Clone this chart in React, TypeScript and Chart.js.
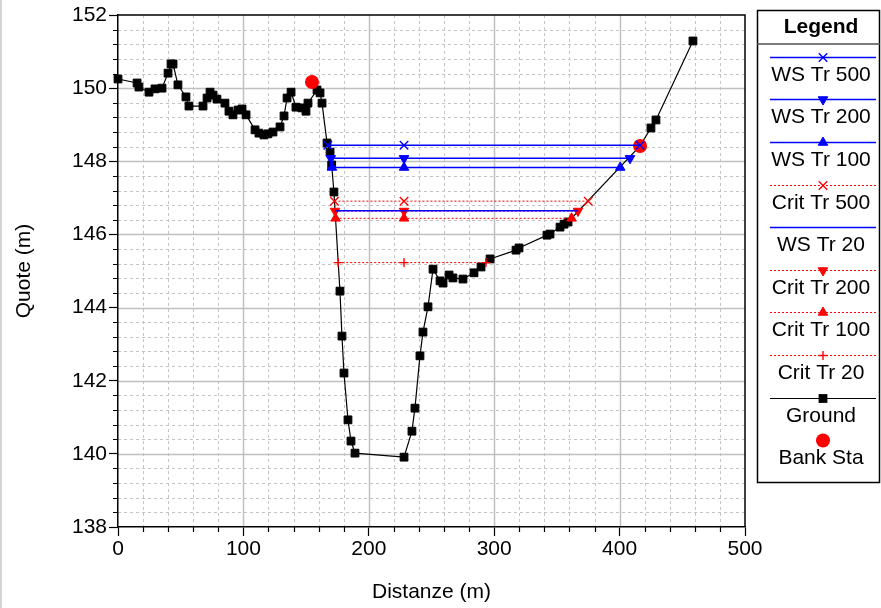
import React, { useEffect, useRef } from 'react';
import { Chart, registerables } from 'chart.js';

Chart.register(...registerables);

// ---------------- data ----------------
const groundX = [
  0, 15.2, 16.7, 24.7, 29.5, 35.1, 39.9, 42.3, 43.9, 47.8, 54.2, 56.6, 67.8, 71.0, 73.4, 75.8,
  78.9, 85.3, 88.5, 91.7, 95.7, 98.9, 102.1, 109.3, 112.4, 116.4, 119.6, 123.6, 129.2, 132.4,
  134.8, 138.0, 141.9, 146.7, 149.9, 151.5, 158.7, 161.1, 162.7, 166.7, 169.1, 170.4, 172.2,
  177.0, 178.6, 180.2, 183.4, 185.8, 189.0, 228.1, 234.4, 236.8, 240.8, 243.2, 247.2, 251.2,
  256.8, 259.2, 264.0, 267.1, 275.1, 283.9, 289.5, 296.7, 317.4, 319.8, 342.1, 344.5, 352.5,
  355.7, 358.9, 416.3, 425.0, 429.0, 458.5,
];
const groundY = [
  150.25, 150.14, 150.03, 149.89, 149.98, 150.0, 150.41, 150.66, 150.66, 150.09, 149.76, 149.51,
  149.51, 149.73, 149.89, 149.81, 149.7, 149.59, 149.37, 149.27, 149.4, 149.43, 149.27, 148.86,
  148.77, 148.72, 148.75, 148.8, 148.94, 149.24, 149.73, 149.89, 149.48, 149.46, 149.37, 149.59,
  149.95, 149.87, 149.59, 148.5, 148.25, 147.9, 147.16, 144.45, 143.22, 142.21, 140.93, 140.35,
  140.02, 139.91, 140.62, 141.25, 142.68, 143.33, 144.02, 145.05, 144.73, 144.67, 144.89, 144.81,
  144.78, 144.95, 145.11, 145.33, 145.57, 145.63, 145.98, 146.01, 146.2, 146.28, 146.34, 148.42,
  148.91, 149.13, 151.29,
];
const bankStaX = [154.7, 416.3];
const bankStaY = [150.17, 148.42];

const wsTr500X = [167.3, 228.1, 416.3];
const wsTr500Y = [148.44, 148.44, 148.44];
const wsTr200X = [169.7, 228.1, 408.3];
const wsTr200Y = [148.08, 148.08, 148.08];
const wsTr100X = [170.6, 228.1, 400.5];
const wsTr100Y = [147.83, 147.83, 147.83];
const critTr500X = [172.6, 228.1, 375.0];
const critTr500Y = [146.91, 146.91, 146.91];
const wsTr20X = [173.1, 228.1, 366.8];
const wsTr20Y = [146.65, 146.65, 146.65];
const critTr200X = [173.1, 228.1, 366.8];
const critTr200Y = [146.64, 146.64, 146.64];
const critTr100X = [173.5, 228.1, 361.7];
const critTr100Y = [146.44, 146.44, 146.44];
const critTr20X = [175.6, 228.1, 293.4];
const critTr20Y = [145.23, 145.23, 145.23];

const xTickLabels = [0, 100, 200, 300, 400, 500];
const yTickLabels = [138, 140, 142, 144, 146, 148, 150, 152];

const xTitle = 'Distanze (m)';
const yTitle = 'Quote (m)';
const legendTitle = 'Legend';

// ---------------- styling ----------------
const FONT = '"Liberation Sans", Arial, Helvetica, sans-serif';
const BLUE = '#0000ff';
const RED = '#ff0000';
const BLACK = '#000000';

const near = (v: number, list: number[]) => list.some((l) => Math.abs(l - v) < 1e-6);
const pts = (xs: number[], ys: number[]) => xs.map((x, i) => ({ x, y: ys[i] }));

function drawMarker(
  ctx: CanvasRenderingContext2D,
  style: string,
  x: number,
  y: number,
  r: number,
  rot: number,
  color: string,
  bw: number
) {
  if (!r) return;
  ctx.save();
  ctx.setLineDash([]);
  ctx.fillStyle = color;
  ctx.strokeStyle = color;
  ctx.lineWidth = bw;
  ctx.beginPath();
  if (style === 'crossRot') {
    const s = r * Math.SQRT1_2;
    ctx.moveTo(x - s, y - s);
    ctx.lineTo(x + s, y + s);
    ctx.moveTo(x + s, y - s);
    ctx.lineTo(x - s, y + s);
    ctx.stroke();
  } else if (style === 'cross') {
    ctx.moveTo(x - r, y);
    ctx.lineTo(x + r, y);
    ctx.moveTo(x, y - r);
    ctx.lineTo(x, y + r);
    ctx.stroke();
  } else if (style === 'triangle') {
    const d = rot ? -1 : 1;
    ctx.moveTo(x, y - d * r);
    ctx.lineTo(x + r * 0.866, y + d * r * 0.5);
    ctx.lineTo(x - r * 0.866, y + d * r * 0.5);
    ctx.closePath();
    ctx.fill();
    ctx.stroke();
  } else if (style === 'rect') {
    const s = r * Math.SQRT1_2 + bw / 2;
    ctx.fillRect(x - s, y - s, 2 * s, 2 * s);
  } else if (style === 'circle') {
    ctx.arc(x, y, r, 0, Math.PI * 2);
    ctx.fill();
  }
  ctx.restore();
}

const hecPlugin = {
  id: 'hecPlugin',
  beforeDraw(chart: any) {
    const { ctx, chartArea: a, scales } = chart;
    ctx.save();
    ctx.fillStyle = '#ffffff';
    ctx.fillRect(0, 0, chart.width, chart.height);
    ctx.fillStyle = '#d4d4d4';
    ctx.fillRect(0, 0, 2, chart.height);
    const xs = scales.x;
    const ys = scales.y;
    xs.ticks.forEach((t: any) => {
      const v = t.value;
      if (v <= xs.min + 1e-6 || v >= xs.max - 1e-6) return;
      const major = near(v, xTickLabels);
      const px = Math.round(xs.getPixelForValue(v)) + 0.5;
      ctx.beginPath();
      ctx.setLineDash(major ? [] : [3, 3]);
      ctx.lineWidth = major ? 1.5 : 1;
      ctx.strokeStyle = major ? '#c0c0c0' : '#c4c4c4';
      ctx.moveTo(px, a.top);
      ctx.lineTo(px, a.bottom);
      ctx.stroke();
    });
    ys.ticks.forEach((t: any) => {
      const v = t.value;
      if (v <= ys.min + 1e-6 || v >= ys.max - 1e-6) return;
      const major = near(v, yTickLabels);
      const py = Math.round(ys.getPixelForValue(v)) + 0.5;
      ctx.beginPath();
      ctx.setLineDash(major ? [] : [3, 3]);
      ctx.lineWidth = major ? 1.5 : 1;
      ctx.strokeStyle = major ? '#c0c0c0' : '#c4c4c4';
      ctx.moveTo(a.left, py);
      ctx.lineTo(a.right, py);
      ctx.stroke();
    });
    ctx.restore();
  },
  beforeDatasetsDraw(chart: any) {
    const { ctx, chartArea: a, scales } = chart;
    const xs = scales.x;
    const ys = scales.y;
    ctx.save();
    ctx.setLineDash([]);
    ctx.strokeStyle = BLACK;
    ctx.lineWidth = 1.2;
    ctx.beginPath();
    xs.ticks.forEach((t: any) => {
      if (near(t.value, xTickLabels)) return;
      const px = Math.round(xs.getPixelForValue(t.value)) + 0.5;
      ctx.moveTo(px, a.bottom);
      ctx.lineTo(px, a.bottom + 5);
    });
    ys.ticks.forEach((t: any) => {
      if (near(t.value, yTickLabels)) return;
      const py = Math.round(ys.getPixelForValue(t.value)) + 0.5;
      ctx.moveTo(a.left - 5, py);
      ctx.lineTo(a.left, py);
    });
    ctx.stroke();
    ctx.lineWidth = 1.5;
    ctx.beginPath();
    ctx.moveTo(a.left, a.top);
    ctx.lineTo(a.right, a.top);
    ctx.lineTo(a.right, a.bottom);
    ctx.stroke();
    ctx.restore();
  },
  afterDraw(chart: any) {
    const { ctx } = chart;
    const bx = 757;
    const by = 10;
    const bw = 123;
    const bh = 472;
    const cx = 821;
    ctx.save();
    ctx.setLineDash([]);
    ctx.fillStyle = '#ffffff';
    ctx.fillRect(bx, by, bw, bh);
    ctx.strokeStyle = BLACK;
    ctx.lineWidth = 1.5;
    ctx.strokeRect(bx + 0.5, by + 0.5, bw - 1, bh);
    ctx.fillStyle = BLACK;
    ctx.textAlign = 'center';
    ctx.textBaseline = 'middle';
    ctx.font = `bold 21px ${FONT}`;
    ctx.fillText(legendTitle, cx, 27);
    ctx.strokeStyle = '#505050';
    ctx.beginPath();
    ctx.moveTo(bx, 44);
    ctx.lineTo(bx + bw, 44);
    ctx.stroke();
    ctx.font = `21px ${FONT}`;
    chart.data.datasets.forEach((ds: any, i: number) => {
      const ly = 56.7 + i * 42.6;
      if (ds.showLine) {
        ctx.save();
        ctx.strokeStyle = ds.borderColor;
        ctx.lineWidth = ds.borderWidth;
        ctx.setLineDash(ds.borderDash || []);
        ctx.beginPath();
        ctx.moveTo(770, Math.round(ly) + 0.5);
        ctx.lineTo(876, Math.round(ly) + 0.5);
        ctx.stroke();
        ctx.restore();
      }
      drawMarker(
        ctx,
        ds.pointStyle,
        823,
        Math.round(ly) + 0.5,
        ds.pointRadius,
        ds.pointRotation || 0,
        ds.pointBackgroundColor || ds.borderColor,
        ds.pointBorderWidth || 1
      );
      ctx.fillStyle = BLACK;
      ctx.fillText(ds.label, cx, ly + 18.3);
    });
    ctx.restore();
  },
};

export default function App() {
  const canvasRef = useRef<HTMLCanvasElement | null>(null);

  useEffect(() => {
    document.body.style.margin = '0';
    const canvas = canvasRef.current;
    if (!canvas) return;

    const base = { showLine: true, clip: false as any, tension: 0, pointHoverRadius: 0 };

    const datasets: any[] = [
      {
        ...base, label: 'WS Tr 500', data: pts(wsTr500X, wsTr500Y), order: 0,
        borderColor: BLUE, backgroundColor: BLUE, pointBackgroundColor: BLUE, pointBorderColor: BLUE,
        borderWidth: 1.5, pointStyle: 'crossRot', pointRadius: 6, pointBorderWidth: 1.4,
      },
      {
        ...base, label: 'WS Tr 200', data: pts(wsTr200X, wsTr200Y), order: 0,
        borderColor: BLUE, backgroundColor: BLUE, pointBackgroundColor: BLUE, pointBorderColor: BLUE,
        borderWidth: 1.5, pointStyle: 'triangle', pointRotation: 180, pointRadius: 5.5, pointBorderWidth: 1,
      },
      {
        ...base, label: 'WS Tr 100', data: pts(wsTr100X, wsTr100Y), order: 0,
        borderColor: BLUE, backgroundColor: BLUE, pointBackgroundColor: BLUE, pointBorderColor: BLUE,
        borderWidth: 1.5, pointStyle: 'triangle', pointRotation: 0, pointRadius: 5.5, pointBorderWidth: 1,
      },
      {
        ...base, label: 'Crit Tr 500', data: pts(critTr500X, critTr500Y), order: 0,
        borderColor: RED, backgroundColor: RED, pointBackgroundColor: RED, pointBorderColor: RED,
        borderWidth: 1, borderDash: [2, 2], pointStyle: 'crossRot', pointRadius: 6, pointBorderWidth: 1.4,
      },
      {
        ...base, label: 'WS Tr 20', data: pts(wsTr20X, wsTr20Y), order: 0,
        borderColor: BLUE, backgroundColor: BLUE, pointBackgroundColor: BLUE, pointBorderColor: BLUE,
        borderWidth: 1.5, pointStyle: 'circle', pointRadius: 0, pointBorderWidth: 0,
      },
      {
        ...base, label: 'Crit Tr 200', data: pts(critTr200X, critTr200Y), order: 0,
        borderColor: RED, backgroundColor: RED, pointBackgroundColor: RED, pointBorderColor: RED,
        borderWidth: 1, borderDash: [2, 2], pointStyle: 'triangle', pointRotation: 180, pointRadius: 5.5, pointBorderWidth: 1,
      },
      {
        ...base, label: 'Crit Tr 100', data: pts(critTr100X, critTr100Y), order: 0,
        borderColor: RED, backgroundColor: RED, pointBackgroundColor: RED, pointBorderColor: RED,
        borderWidth: 1, borderDash: [2, 2], pointStyle: 'triangle', pointRotation: 0, pointRadius: 5.5, pointBorderWidth: 1,
      },
      {
        ...base, label: 'Crit Tr 20', data: pts(critTr20X, critTr20Y), order: 0,
        borderColor: RED, backgroundColor: RED, pointBackgroundColor: RED, pointBorderColor: RED,
        borderWidth: 1, borderDash: [2, 2], pointStyle: 'cross', pointRadius: 4.5, pointBorderWidth: 1.4,
      },
      {
        ...base, label: 'Ground', data: pts(groundX, groundY), order: 2,
        borderColor: BLACK, backgroundColor: BLACK, pointBackgroundColor: BLACK, pointBorderColor: BLACK,
        borderWidth: 1.2, pointStyle: 'rect', pointRadius: 5.5, pointBorderWidth: 1,
      },
      {
        ...base, showLine: false, label: 'Bank Sta', data: pts(bankStaX, bankStaY), order: 1,
        borderColor: RED, backgroundColor: RED, pointBackgroundColor: RED, pointBorderColor: RED,
        borderWidth: 0, pointStyle: 'circle', pointRadius: 7, pointBorderWidth: 0,
      },
    ];

    const tickFont = { family: FONT, size: 21 };

    const chart = new Chart(canvas, {
      type: 'scatter',
      data: { datasets },
      plugins: [hecPlugin as any],
      options: {
        responsive: false,
        animation: false,
        devicePixelRatio: 1,
        events: [],
        layout: { padding: { left: 0, top: 15, right: 136, bottom: 0 } },
        plugins: {
          legend: { display: false },
          tooltip: { enabled: false },
          title: { display: false },
        },
        scales: {
          x: {
            type: 'linear',
            position: 'bottom',
            min: 0,
            max: 500,
            ticks: {
              stepSize: 20,
              autoSkip: false,
              maxRotation: 0,
              minRotation: 0,
              padding: 1,
              color: BLACK,
              font: tickFont,
              callback: (v: any) => (near(Number(v), xTickLabels) ? String(Math.round(Number(v))) : ''),
            },
            grid: {
              display: true,
              drawOnChartArea: false,
              drawTicks: true,
              tickLength: 9,
              tickWidth: 1.2,
              tickColor: (c: any) => (c.tick && near(c.tick.value, xTickLabels) ? BLACK : 'rgba(0,0,0,0)'),
            },
            border: { display: true, color: BLACK, width: 1.5 },
            title: {
              display: true,
              text: xTitle,
              color: BLACK,
              font: { family: FONT, size: 21 },
              padding: { top: 0, bottom: 3 },
            },
            afterFit: (s: any) => {
              s.height = 81;
            },
          } as any,
          y: {
            type: 'linear',
            position: 'left',
            min: 138,
            max: 152,
            ticks: {
              stepSize: 0.4,
              autoSkip: false,
              padding: 2,
              color: BLACK,
              font: tickFont,
              callback: (v: any) => (near(Number(v), yTickLabels) ? String(Math.round(Number(v))) : ''),
            },
            grid: {
              display: true,
              drawOnChartArea: false,
              drawTicks: true,
              tickLength: 9,
              tickWidth: 1.2,
              tickColor: (c: any) => (c.tick && near(c.tick.value, yTickLabels) ? BLACK : 'rgba(0,0,0,0)'),
            },
            border: { display: true, color: BLACK, width: 1.5 },
            title: {
              display: true,
              text: yTitle,
              color: BLACK,
              font: { family: FONT, size: 21 },
              padding: { top: 12, bottom: 0 },
            },
            afterFit: (s: any) => {
              s.width = 118;
            },
          } as any,
        },
      },
    });

    return () => {
      chart.destroy();
    };
  }, []);

  return (
    <div style={{ width: 881, height: 608 }}>
      <canvas ref={canvasRef} width={881} height={608} style={{ display: 'block' }} />
    </div>
  );
}
